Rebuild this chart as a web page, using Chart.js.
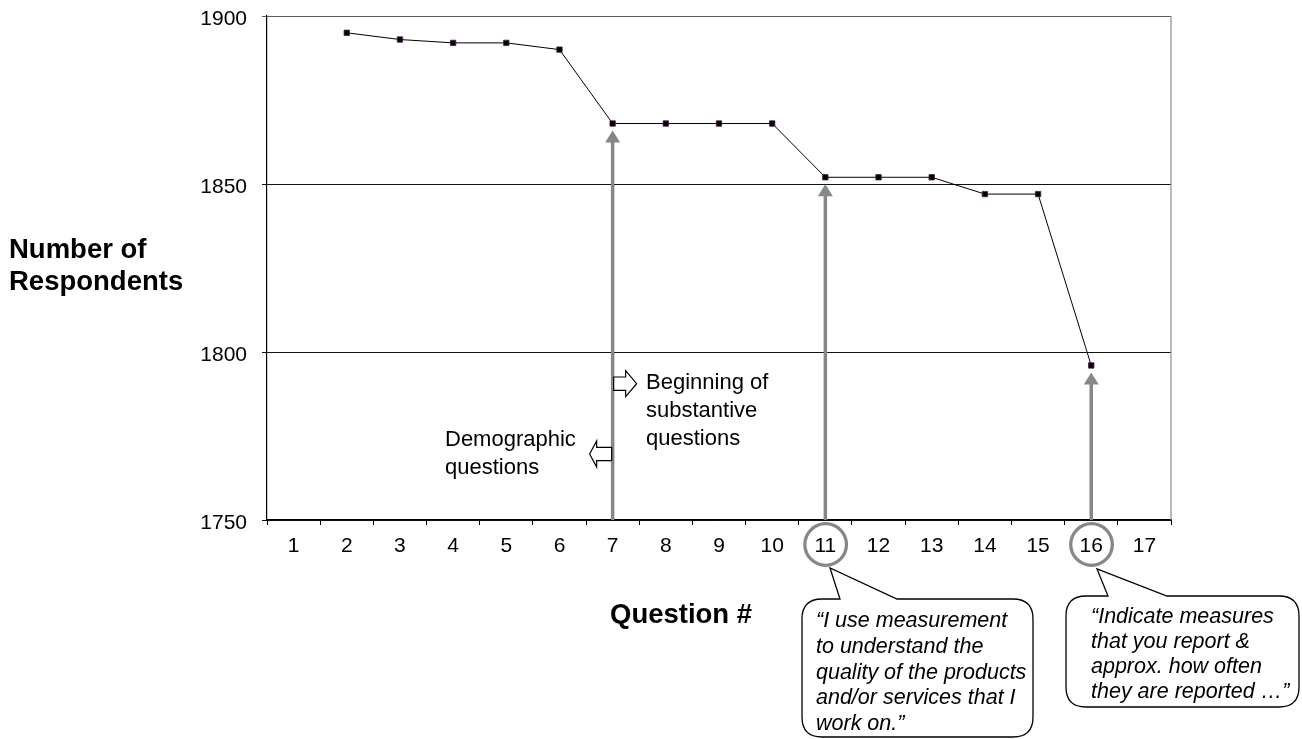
<!DOCTYPE html>
<html>
<head>
<meta charset="utf-8">
<script src="https://cdn.jsdelivr.net/npm/chart.js@4"></script>
<style>
  html, body { margin: 0; padding: 0; background: #fff; }
  #wrap { position: relative; width: 1302px; height: 739px; }
</style>
</head>
<body>
<div id="wrap"><canvas id="chart"></canvas></div>
<script>
// Survey drop-off: respondents still answering at each question
const questions = ['1','2','3','4','5','6','7','8','9','10','11','12','13','14','15','16','17'];
const respondents = [null, 1895, 1893, 1892, 1892, 1890, 1868, 1868, 1868, 1868, 1852, 1852, 1852, 1847, 1847, 1796, null];
const yTicks = [1750, 1800, 1850, 1900];

// Questions pointed out with arrows, and those whose label is circled
const arrowQuestions = ['7', '11', '16'];
const circledQuestions = ['11', '16'];

const yTitleLines = ['Number of', 'Respondents'];
const xTitle = 'Question #';
const beginNote = ['Beginning of', 'substantive', 'questions'];
const demoNote = ['Demographic', 'questions'];
const quote11 = ['\u201CI use measurement', 'to understand the', 'quality of the products', 'and/or services that I', 'work on.\u201D'];
const quote16 = ['\u201CIndicate measures', 'that you report &', 'approx. how often', 'they are reported \u2026\u201D'];

const FONT = '"Liberation Sans", Arial, Helvetica, sans-serif';

function blockArrow(ctx, x0, x1, yc, shaftHalf, headHalf, headLen) {
  // x0 = tail end, x1 = tip; works in either direction
  const dir = Math.sign(x1 - x0);
  const hb = x1 - dir * headLen;
  ctx.beginPath();
  ctx.moveTo(x0, yc - shaftHalf);
  ctx.lineTo(hb, yc - shaftHalf);
  ctx.lineTo(hb, yc - headHalf);
  ctx.lineTo(x1, yc);
  ctx.lineTo(hb, yc + headHalf);
  ctx.lineTo(hb, yc + shaftHalf);
  ctx.lineTo(x0, yc + shaftHalf);
  ctx.closePath();
  ctx.fillStyle = '#fff';
  ctx.fill();
  ctx.lineWidth = 1.2;
  ctx.strokeStyle = '#000';
  ctx.stroke();
}

function callout(ctx, box, tip, baseL, baseR, lines, textX, firstBase, lineGap) {
  const { l, t, r, b } = box;
  const rad = 20;
  ctx.beginPath();
  ctx.moveTo(l + rad, t);
  ctx.lineTo(baseL, t);
  ctx.lineTo(tip.x, tip.y);
  ctx.lineTo(baseR, t);
  ctx.lineTo(r - rad, t);
  ctx.quadraticCurveTo(r, t, r, t + rad);
  ctx.lineTo(r, b - rad);
  ctx.quadraticCurveTo(r, b, r - rad, b);
  ctx.lineTo(l + rad, b);
  ctx.quadraticCurveTo(l, b, l, b - rad);
  ctx.lineTo(l, t + rad);
  ctx.quadraticCurveTo(l, t, l + rad, t);
  ctx.closePath();
  ctx.fillStyle = '#fff';
  ctx.fill();
  ctx.lineWidth = 1.3;
  ctx.strokeStyle = '#000';
  ctx.stroke();
  ctx.fillStyle = '#000';
  ctx.font = 'italic 21.5px ' + FONT;
  ctx.textAlign = 'left';
  ctx.textBaseline = 'alphabetic';
  lines.forEach((s, i) => ctx.fillText(s, textX, firstBase + i * lineGap));
}

const annotations = {
  id: 'annotations',
  afterDatasetsDraw(chart) {
    const { ctx, scales: { x, y }, chartArea } = chart;
    ctx.save();
    // grey arrows rising from the axis to the marked questions
    ctx.strokeStyle = '#878787';
    ctx.fillStyle = '#878787';
    arrowQuestions.forEach(q => {
      const i = questions.indexOf(q);
      const px = x.getPixelForValue(i);
      const tipY = y.getPixelForValue(respondents[i]) + 7;
      ctx.lineWidth = 3.5;
      ctx.beginPath();
      ctx.moveTo(px, chartArea.bottom);
      ctx.lineTo(px, tipY + 10);
      ctx.stroke();
      ctx.beginPath();
      ctx.moveTo(px, tipY);
      ctx.lineTo(px - 7.5, tipY + 12);
      ctx.lineTo(px + 7.5, tipY + 12);
      ctx.closePath();
      ctx.fill();
    });
    ctx.restore();
  },
  afterDraw(chart) {
    const { ctx, scales: { x }, chartArea } = chart;
    ctx.save();
    // right frame edge
    ctx.strokeStyle = '#8a8a8a';
    ctx.lineWidth = 1.2;
    ctx.beginPath();
    ctx.moveTo(chartArea.right, chartArea.top);
    ctx.lineTo(chartArea.right, chartArea.bottom);
    ctx.stroke();

    // axis titles
    ctx.fillStyle = '#000';
    ctx.font = 'bold 27.5px ' + FONT;
    ctx.textAlign = 'left';
    ctx.textBaseline = 'alphabetic';
    ctx.fillText(yTitleLines[0], 9, 258);
    ctx.fillText(yTitleLines[1], 9, 290);
    ctx.fillText(xTitle, 610, 623);

    // section notes
    ctx.font = '22px ' + FONT;
    beginNote.forEach((s, i) => ctx.fillText(s, 646, 389 + i * 27.8));
    demoNote.forEach((s, i) => ctx.fillText(s, 445, 446 + i * 27.5));
    const x7 = x.getPixelForValue(questions.indexOf('7'));
    blockArrow(ctx, x7 + 1, x7 + 24, 383.7, 6.7, 13, 11);
    blockArrow(ctx, x7 - 1, x7 - 23, 454, 6.7, 13, 7);

    // circled question numbers
    ctx.strokeStyle = '#878787';
    ctx.lineWidth = 3.3;
    circledQuestions.forEach(q => {
      const px = x.getPixelForValue(questions.indexOf(q));
      ctx.beginPath();
      ctx.arc(px + 0.3, 544.5, 20.8, 0, Math.PI * 2);
      ctx.stroke();
    });

    // quotation callouts
    callout(ctx, { l: 802, t: 599, r: 1033, b: 737 }, { x: 830, y: 568 }, 840, 897,
      quote11, 816, 627, 25.8);
    callout(ctx, { l: 1066, t: 596, r: 1299, b: 707 }, { x: 1097, y: 569 }, 1108, 1167,
      quote16, 1091, 623, 25);
    ctx.restore();
  }
};

new Chart(document.getElementById('chart'), {
  type: 'line',
  data: {
    labels: questions,
    datasets: [{
      data: respondents,
      borderColor: '#000',
      borderWidth: 1,
      pointStyle: 'rect',
      pointRadius: 3.8,
      pointBackgroundColor: '#000',
      pointBorderColor: '#4a1a4a',
      pointBorderWidth: 0.8,
      tension: 0,
      spanGaps: false
    }]
  },
  options: {
    responsive: true,
    maintainAspectRatio: false,
    animation: false,
    events: [],
    layout: { padding: { left: 0, right: 131, top: 16, bottom: 0 } },
    plugins: { legend: { display: false }, tooltip: { enabled: false }, title: { display: false } },
    scales: {
      x: {
        type: 'category',
        offset: true,
        afterFit(scale) { scale.height = 219; },
        grid: { offset: true, drawOnChartArea: false, drawTicks: true, tickLength: 5, color: '#000', lineWidth: 1 },
        border: { color: '#000', width: 1.2 },
        ticks: { color: '#000', font: { family: FONT, size: 21 }, padding: 9, maxRotation: 0, autoSkip: false }
      },
      y: {
        min: 1750,
        max: 1900,
        afterFit(scale) { scale.width = 267; scale.paddingTop = 0; scale.paddingBottom = 0; },
        afterBuildTicks(scale) { scale.ticks = yTicks.map(v => ({ value: v })); },
        grid: {
          drawTicks: true,
          tickLength: 5,
          color: ctx => (ctx.tick && ctx.tick.value === 1900) ? '#5a5a5a' : '#111',
          lineWidth: 1
        },
        border: { color: '#000', width: 1.2 },
        ticks: {
          color: '#000',
          font: { family: FONT, size: 21 },
          padding: 15,
          labelOffset: 3,
          callback: v => String(v)
        }
      }
    }
  },
  plugins: [annotations]
});
</script>
</body>
</html>
